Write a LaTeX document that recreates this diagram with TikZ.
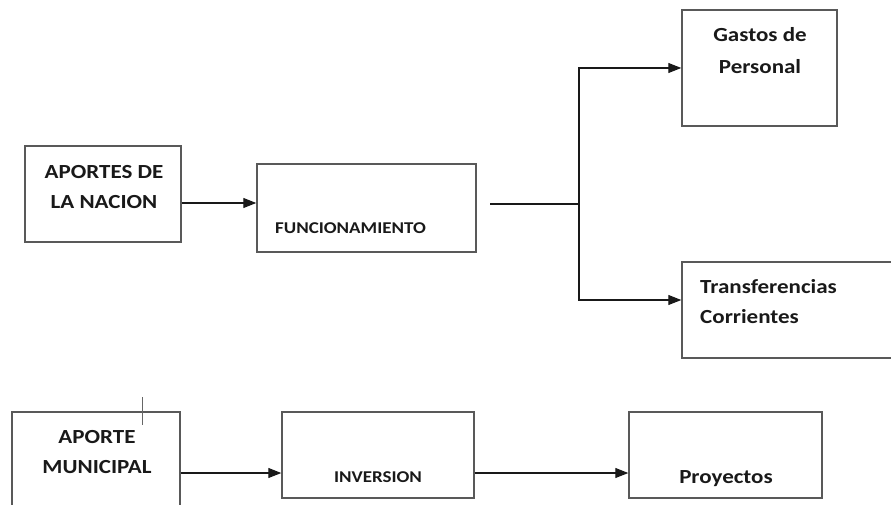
\documentclass[tikz,border=0pt]{standalone}
\usepackage{fontspec}
\setmainfont{Carlito}[FakeStretch=1.15]
\usepackage{tikz}
\usetikzlibrary{arrows.meta}

\tikzset{
  caja/.style={draw=black!65, line width=1.4pt, rectangle, inner sep=0pt},
  texto/.style={text=black!90, font=\bfseries\fontsize{20}{30}\selectfont, inner sep=0pt},
  textochico/.style={texto, font=\bfseries\fontsize{16.5}{20}\selectfont},
  flecha/.style={line width=1.2pt, draw=black!90, -{Triangle[length=13pt, width=10pt]}},
  linea/.style={line width=1.2pt, draw=black!90}
}

\begin{document}
\begin{tikzpicture}[x=1pt, y=-1pt]
  \useasboundingbox (0,0) rectangle (891,505);

  % fuentes
  \node[caja, minimum width=156, minimum height=96] (nacion) at (103,194) {};
  \node[texto, align=center] (nacion-t) at (104,187) {APORTES DE\\LA NACION};
  \node[caja, minimum width=168, minimum height=108] (municipal) at (96,466) {};
  \node[texto, align=center] (municipal-t) at (97,452) {APORTE\\MUNICIPAL};
  \draw[black!60, line width=0.8pt] (142,397) -- (142,425);

  % destinos
  \node[caja, minimum width=219, minimum height=88] (func) at (366.5,208) {};
  \node[textochico, anchor=west] (func-t) at (275,228) {FUNCIONAMIENTO};
  \node[caja, minimum width=192, minimum height=86] (inversion) at (378,455) {};
  \node[textochico] (inversion-t) at (378,477) {INVERSION};

  % gastos
  \node[caja, minimum width=155, minimum height=116] (gastos) at (759.5,68) {};
  \node[texto, align=center, font=\bfseries\fontsize{20}{32}\selectfont] (gastos-t) at (760,51) {Gastos de\\Personal};
  \node[caja, minimum width=218, minimum height=96] (transf) at (791,310) {};
  \node[texto, align=left, anchor=west] (transf-t) at (700,302) {Transferencias\\Corrientes};
  \node[caja, minimum width=193, minimum height=86] (proyectos) at (725.5,455) {};
  \node[texto] (proyectos-t) at (726,479) {Proyectos};

  % conexiones
  \draw[flecha] ([yshift=-9pt]nacion.east) coordinate (a) -- (a -| func.west);
  \coordinate (salida) at (490,204);
  \coordinate (rama) at (579,204);
  \draw[linea] (salida) -- (rama);
  \draw[flecha] (rama) |- (gastos.west);
  \draw[flecha] (rama) |- ([yshift=10pt]transf.west);
  \draw[flecha] ([yshift=-7pt]municipal.east) coordinate (b) -- (b -| inversion.west);
  \draw[flecha] (b -| inversion.east) -- (b -| proyectos.west);
\end{tikzpicture}
\end{document}
